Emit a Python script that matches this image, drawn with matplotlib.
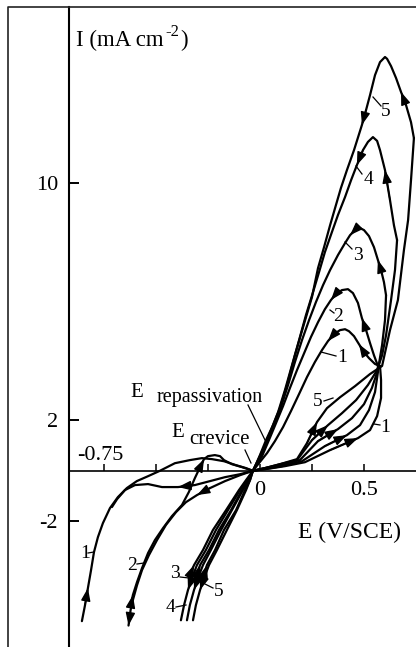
import numpy as np
import matplotlib
matplotlib.use("Agg")
import matplotlib.pyplot as plt
from matplotlib.lines import Line2D

plt.rcParams['font.family'] = ['Liberation Serif', 'DejaVu Serif']
plt.rcParams['mathtext.fontset'] = 'stix'
plt.rcParams['axes.unicode_minus'] = False

# ---------------- polarization data: E (V/SCE), I (mA cm-2) ----------------
# curve 1
c1_fc_E = [-0.857, -0.842, -0.828, -0.813, -0.799, -0.780, -0.756, -0.722, -0.684, -0.641, -0.593,
           -0.539, -0.482, -0.410, -0.338, -0.280, -0.232, -0.174, -0.116, -0.068, -0.035]
c1_fc_I = [-5.60, -5.05, -4.45, -3.81, -3.16, -2.60, -2.07, -1.49, -1.06, -0.70, -0.42,
           -0.22, 0.00, 0.31, 0.435, 0.515, 0.475, 0.39, 0.23, 0.11, 0.0]
c1_fa_E = [-0.035, 0.028, 0.119, 0.215, 0.336, 0.470, 0.528, 0.562, 0.581, 0.581, 0.576]
c1_fa_I = [0.0, 0.07, 0.19, 0.35, 0.837, 1.31, 1.623, 2.16, 2.84, 3.50, 4.01]
c1_ra_E = [0.576, 0.552, 0.523, 0.499, 0.475, 0.451, 0.427, 0.408, 0.384, 0.355, 0.326, 0.297,
           0.263, 0.225, 0.187, 0.148, 0.110, 0.071, 0.033, -0.006, -0.035]
c1_ra_I = [4.01, 4.08, 4.29, 4.50, 4.78, 5.06, 5.23, 5.30, 5.269, 5.13, 4.89, 4.573,
           4.15, 3.61, 2.99, 2.35, 1.74, 1.193, 0.717, 0.31, 0.0]
c1_rc_E = [-0.035, -0.097, -0.169, -0.241, -0.314, -0.395, -0.472, -0.539, -0.602, -0.650, -0.688, -0.7125]
c1_rc_I = [0.0, -0.14, -0.26, -0.42, -0.58, -0.66, -0.66, -0.54, -0.58, -0.78, -1.14, -1.45]

# curve 2
c2_fc_E = [-0.621, -0.612, -0.592, -0.568, -0.539, -0.506, -0.467, -0.424, -0.376, -0.343, -0.314,
           -0.289, -0.270, -0.251, -0.218, -0.193, -0.174, -0.136, -0.0875, -0.035]
c2_fc_I = [-5.05, -4.70, -4.24, -3.74, -3.19, -2.71, -2.26, -1.80, -1.37, -0.86, -0.30,
           0.15, 0.475, 0.595, 0.637, 0.595, 0.435, 0.27, 0.15, 0.0]
c2_fa_E = [-0.035, 0.023, 0.105, 0.201, 0.311, 0.417, 0.480, 0.523, 0.552, 0.566, 0.566]
c2_fa_I = [0.0, 0.07, 0.19, 0.39, 0.995, 1.427, 1.815, 2.387, 3.06, 3.79, 4.01]
c2_ra_E = [0.566, 0.547, 0.528, 0.509, 0.489, 0.470, 0.446, 0.422, 0.393, 0.364, 0.340, 0.311,
           0.278, 0.244, 0.211, 0.177, 0.143, 0.110, 0.076, 0.042, 0.009, -0.035]
c2_ra_I = [4.01, 4.39, 4.82, 5.269, 5.68, 6.19, 6.52, 6.65, 6.619, 6.49, 6.287, 5.98,
           5.54, 5.03, 4.46, 3.862, 3.21, 2.54, 1.89, 1.232, 0.595, 0.0]
c2_rc_E = [-0.035, -0.097, -0.169, -0.241, -0.304, -0.357, -0.405, -0.453, -0.496, -0.535, -0.568,
           -0.592, -0.612, -0.623, -0.629, -0.633]
c2_rc_I = [0.0, -0.18, -0.42, -0.70, -0.98, -1.26, -1.65, -2.14, -2.71, -3.27, -3.81,
           -4.35, -4.875, -5.22, -5.56, -5.75]

# curve 3
c3_fc_E = [-0.338, -0.318, -0.275, -0.227, -0.164, -0.102, -0.068, -0.035]
c3_fc_I = [-3.99, -3.63, -3.08, -2.33, -1.57, -0.78, -0.38, 0.0]
c3_fa_E = [-0.035, 0.023, 0.095, 0.191, 0.278, 0.374, 0.441, 0.499, 0.537, 0.566, 0.586, 0.600, 0.605]
c3_fa_I = [0.0, 0.11, 0.23, 0.435, 1.193, 1.662, 2.08, 2.61, 3.21, 3.862, 4.75, 5.612, 6.45]
c3_ra_E = [0.605, 0.595, 0.581, 0.566, 0.547, 0.523, 0.499, 0.480, 0.456, 0.432, 0.408, 0.374,
           0.336, 0.302, 0.268, 0.235, 0.201, 0.167, 0.134, 0.100, 0.066, 0.033, -0.001, -0.035]
c3_ra_I = [6.45, 6.88, 7.275, 7.598, 8.01, 8.36, 8.549, 8.61, 8.549, 8.39, 8.14, 7.76,
           7.275, 6.78, 6.22, 5.612, 4.923, 4.15, 3.32, 2.50, 1.815, 1.153, 0.555, 0.0]
c3_rc_E = [-0.035, -0.063, -0.097, -0.155, -0.2125, -0.261, -0.304, -0.328, -0.347, -0.366, -0.381]
c3_rc_I = [0.0, -0.38, -0.78, -1.57, -2.33, -3.08, -3.63, -4.10, -4.52, -5.05, -5.57]

# curve 4
c4_fc_E = [-0.304, -0.289, -0.246, -0.198, -0.140, -0.0875, -0.059, -0.035]
c4_fc_I = [-3.99, -3.63, -3.08, -2.33, -1.57, -0.78, -0.38, 0.0]
c4_fa_E = [-0.035, 0.023, 0.095, 0.177, 0.249, 0.326, 0.393, 0.461, 0.518, 0.562, 0.586, 0.605,
           0.629, 0.648, 0.658]
c4_fa_I = [0.0, 0.11, 0.27, 0.435, 1.232, 1.815, 2.27, 2.763, 3.32, 3.862, 4.39, 5.09,
           6.287, 7.275, 8.235]
c4_ra_E = [0.658, 0.643, 0.624, 0.600, 0.576, 0.562, 0.542, 0.518, 0.494, 0.465, 0.437, 0.408,
           0.374, 0.345, 0.311, 0.283, 0.254, 0.220, 0.187, 0.153, 0.119, 0.086, 0.052, 0.023,
           -0.006, -0.035]
c4_ra_I = [8.235, 8.70, 9.476, 10.38, 10.97, 11.24, 11.35, 11.21, 10.97, 10.53, 10.08, 9.57,
           9.02, 8.49, 7.85, 7.21, 6.55, 5.78, 4.923, 4.04, 3.133, 2.31, 1.623, 1.035,
           0.515, 0.0]
c4_rc_E = [-0.035, -0.054, -0.083, -0.136, -0.188, -0.237, -0.275, -0.299, -0.318, -0.338, -0.352]
c4_rc_I = [0.0, -0.38, -0.78, -1.57, -2.33, -3.08, -3.63, -4.10, -4.52, -5.05, -5.57]

# curve 5
c5_fc_E = [-0.270, -0.256, -0.217, -0.174, -0.116, -0.073, -0.049, -0.035]
c5_fc_I = [-3.99, -3.63, -3.08, -2.33, -1.57, -0.78, -0.38, 0.0]
c5_fa_E = [-0.035, 0.023, 0.095, 0.177, 0.225, 0.273, 0.321, 0.384, 0.456, 0.528, 0.586, 0.624,
           0.662, 0.691, 0.711, 0.725, 0.735, 0.739]
c5_fa_I = [0.0, 0.11, 0.27, 0.475, 1.114, 1.93, 2.46, 2.87, 3.28, 3.72, 4.01, 5.269,
           6.287, 7.918, 8.861, 10.08, 10.97, 11.32]
c5_ra_E = [0.739, 0.725, 0.701, 0.677, 0.653, 0.629, 0.610, 0.600, 0.576, 0.552, 0.528, 0.509,
           0.489, 0.451, 0.417, 0.388, 0.364, 0.336, 0.307, 0.278, 0.249, 0.206, 0.167, 0.129,
           0.095, 0.062, 0.028, -0.001, -0.020, -0.035]
c5_ra_I = [11.32, 11.78, 12.27, 12.64, 13.03, 13.36, 13.56, 13.61, 13.47, 13.11, 12.55, 12.13,
           11.70, 10.97, 10.38, 9.84, 9.32, 8.70, 8.01, 7.34, 6.39, 5.37, 4.39, 3.32,
           2.46, 1.815, 1.232, 0.637, 0.27, 0.0]
c5_rc_E = [-0.035, -0.049, -0.068, -0.112, -0.160, -0.208, -0.246, -0.270, -0.289, -0.309, -0.323]
c5_rc_I = [0.0, -0.38, -0.78, -1.57, -2.33, -3.08, -3.63, -4.10, -4.52, -5.05, -5.57]

y_ticks = [-2, 2, 10]
y_ticklabels = ['-2', '2', '10']
x_ticks = [-0.75, -0.5, -0.25, 0.0, 0.25, 0.5]
x_ticklabels = ['', '', '', '0', '', '0.5']

# ---------------- figure ----------------
W, H = 416, 647
fig = plt.figure(figsize=(W / 100, H / 100), dpi=100)
fig.patch.set_facecolor('white')


def fp(x, y):
    """pixel position (from top-left) -> figure fraction"""
    return x / W, 1 - y / H


ax = fig.add_axes([69 / W, 0, 1 - 69 / W, 1 - 7 / H])

# current axis is stretched at high currents
C = 0.01822


def fwd(y):
    y = np.asarray(y, float)
    return y + C * y * np.abs(y)


def inv(z):
    z = np.asarray(z, float)
    return np.sign(z) * (np.sqrt(1 + 4 * C * np.abs(z)) - 1) / (2 * C)


ax.set_yscale('function', functions=(fwd, inv))
ax.set_xlim(-0.919, 0.749)
ax.set_ylim(-6.47, 14.96)

ax.spines['top'].set_visible(False)
ax.spines['right'].set_visible(False)
ax.spines['left'].set_linewidth(1.5)
ax.spines['bottom'].set_position(('data', 0))
ax.spines['bottom'].set_linewidth(1.2)

ax.set_yticks(y_ticks)
ax.set_yticklabels(y_ticklabels)
ax.set_xticks(x_ticks)
ax.set_xticklabels(x_ticklabels)
ax.minorticks_off()
ax.tick_params(axis='y', direction='in', length=7, width=1.4, pad=8, labelsize=16)
ax.tick_params(axis='x', direction='in', length=5, width=1.1, pad=7, labelsize=16)
ax.annotate('-0.75', xy=(-0.75, 0), xytext=(-3, 8), textcoords='offset points',
            ha='center', va='baseline', fontsize=16)

LW = 1.6
paths = {
    'c1_fwd': (c1_fc_E + c1_fa_E[1:], c1_fc_I + c1_fa_I[1:]),
    'c1_rev': (c1_ra_E + c1_rc_E[1:], c1_ra_I + c1_rc_I[1:]),
    'c2_fwd': (c2_fc_E + c2_fa_E[1:], c2_fc_I + c2_fa_I[1:]),
    'c2_rev': (c2_ra_E + c2_rc_E[1:], c2_ra_I + c2_rc_I[1:]),
    'c3_fwd': (c3_fc_E + c3_fa_E[1:], c3_fc_I + c3_fa_I[1:]),
    'c3_rev': (c3_ra_E + c3_rc_E[1:], c3_ra_I + c3_rc_I[1:]),
    'c4_fwd': (c4_fc_E + c4_fa_E[1:], c4_fc_I + c4_fa_I[1:]),
    'c4_rev': (c4_ra_E + c4_rc_E[1:], c4_ra_I + c4_rc_I[1:]),
    'c5_fwd': (c5_fc_E + c5_fa_E[1:], c5_fc_I + c5_fa_I[1:]),
    'c5_rev': (c5_ra_E + c5_rc_E[1:], c5_ra_I + c5_rc_I[1:]),
}
for E, I in paths.values():
    assert len(E) == len(I)
    ax.plot(E, I, color='black', lw=LW, solid_joinstyle='round', solid_capstyle='round')


def head(E, I, k):
    ax.annotate('', xy=(E[k], I[k]), xytext=(E[k - 1], I[k - 1]),
                arrowprops=dict(arrowstyle='-|>,head_length=0.6,head_width=0.22',
                                mutation_scale=13, color='black', lw=1.0,
                                shrinkA=0, shrinkB=0))


# scan-direction arrowheads (vertex indices along each branch)
head(c1_fc_E, c1_fc_I, 2)
head(c1_fa_E, c1_fa_I, 5)
head(c1_ra_E, c1_ra_I, 4)
head(c1_ra_E, c1_ra_I, 10)
head(c1_rc_E, c1_rc_I, 5)
head(c2_fc_E, c2_fc_I, 1)
head(c2_fc_E, c2_fc_I, 12)
head(c2_fa_E, c2_fa_I, 5)
head(c2_ra_E, c2_ra_I, 4)
head(c2_ra_E, c2_ra_I, 10)
head(c2_rc_E, c2_rc_I, 4)
head(c2_rc_E, c2_rc_I, 15)
head(c3_fc_E, c3_fc_I, 1)
head(c3_fa_E, c3_fa_I, 5)
head(c3_ra_E, c3_ra_I, 3)
head(c3_ra_E, c3_ra_I, 9)
head(c3_rc_E, c3_rc_I, 8)
head(c4_fc_E, c4_fc_I, 1)
head(c4_fa_E, c4_fa_I, 5)
head(c4_ra_E, c4_ra_I, 3)
head(c4_ra_E, c4_ra_I, 9)
head(c4_rc_E, c4_rc_I, 8)
head(c5_fc_E, c5_fc_I, 1)
head(c5_fa_E, c5_fa_I, 5)
head(c5_ra_E, c5_ra_I, 3)
head(c5_ra_E, c5_ra_I, 12)
head(c5_rc_E, c5_rc_I, 8)

# outer frame
fig.add_artist(Line2D([8 / W, 8 / W, 1.0], [0.0, 1 - 7 / H, 1 - 7 / H],
                      transform=fig.transFigure, color='#222222', lw=1.2))

# axis titles (current unit written with a raised "-2")
renderer = fig.canvas.get_renderer()
t_main = fig.text(*fp(76, 46), 'I (mA cm', fontsize=16.5, ha='left', va='baseline')
bb = t_main.get_window_extent(renderer)
x_sup = bb.x1 / W + 1.5 / W
t_sup = fig.text(x_sup, 1 - 36 / H, '-2', fontsize=12, ha='left', va='baseline')
bb2 = t_sup.get_window_extent(renderer)
fig.text(bb2.x1 / W + 1.5 / W, 1 - 46 / H, ')', fontsize=16.5, ha='left', va='baseline')
fig.text(*fp(298, 538), 'E (V/SCE)', fontsize=17, ha='left', va='baseline')

# characteristic potentials
fig.text(*fp(130, 397), 'E', fontsize=15, ha='left', va='baseline')
fig.text(*fp(157, 402), 'repassivation', fontsize=14.5, ha='left', va='baseline')
fig.text(*fp(171, 437), 'E', fontsize=15, ha='left', va='baseline')
fig.text(*fp(189, 444), 'crevice', fontsize=15, ha='left', va='baseline')


def leader(x0, y0, x1, y1):
    a, b = fp(x0, y0)
    c, d = fp(x1, y1)
    fig.add_artist(Line2D([a, c], [b, d], transform=fig.transFigure, color='black', lw=0.9))


leader(248, 405, 265, 440)
leader(245, 450, 251, 463)

# curve numbers
curve_tags = [
    ('5', 386, 112, (373, 97, 381, 106)),
    ('4', 368, 180, (356, 166, 362, 174)),
    ('3', 358, 255, (345, 242, 352, 249)),
    ('2', 338, 316, (330, 310, 334, 313)),
    ('1', 342, 358, (321, 352, 336, 356)),
    ('5', 318, 402, (333, 398, 324, 401)),
    ('1', 385, 427, (374, 424, 380, 425)),
    ('1', 85, 553, (88, 553, 94, 552)),
    ('2', 132, 565, (137, 564, 144, 563)),
    ('3', 175, 573, (180, 577, 189, 578)),
    ('4', 171, 607, (176, 607, 186, 605)),
    ('5', 219, 592, (213, 588, 205, 584)),
]
for txt, tx, ty, seg in curve_tags:
    fig.text(*fp(tx, ty), txt, fontsize=14, ha='center', va='center')
    leader(*seg)

fig.savefig('out.png', dpi=100, facecolor='white')
